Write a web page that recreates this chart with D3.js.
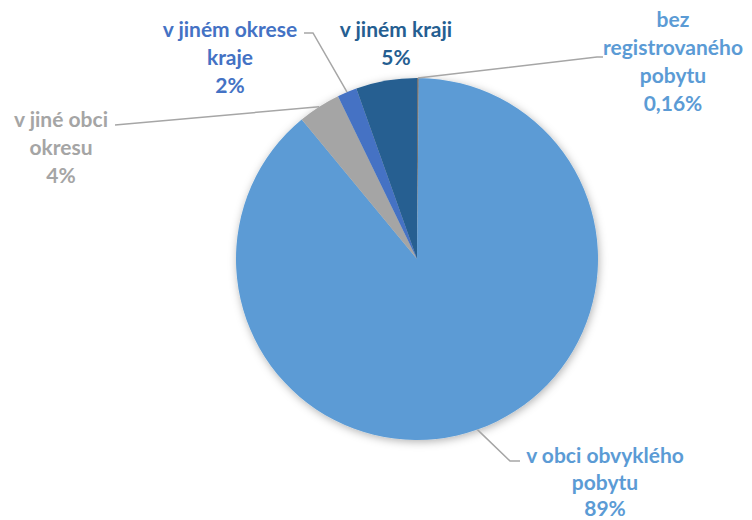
<!DOCTYPE html>
<meta charset="utf-8">
<style>
  body { margin: 0; background: #fff; }
  .lbl text { font: bold 21px Lato, "Open Sans", sans-serif; text-anchor: middle; }
  .leader { fill: none; stroke: #a6a6a6; stroke-width: 1.5; }
</style>
<svg width="752" height="520"></svg>
<script src="https://d3js.org/d3.v7.min.js"></script>
<script>

// data, clockwise from 12 o'clock
var categories = ["bez registrovaného pobytu", "v obci obvyklého pobytu", "v jiné obci okresu", "v jiném okrese kraje", "v jiném kraji"];
var shares = [0.16, 88.85, 3.8, 1.75, 5.44];
var pctLabels = ["0,16%", "89%", "4%", "2%", "5%"];
var labelLines = [
  ["bez", "registrovaného", "pobytu"],
  ["v obci obvyklého", "pobytu"],
  ["v jiné obci", "okresu"],
  ["v jiném okrese", "kraje"],
  ["v jiném kraji"]
];
var colors = ["#737373", "#5b9bd5", "#a5a5a5", "#4472c4", "#255e91"];
var textColors = ["#5b9bd5", "#5b9bd5", "#a5a5a5", "#4472c4", "#255e91"];

// layout
var cx = 417, cy = 259, radius = 181;
// label centre (x, y of first line), line step, leader end point on label side
var labelPos = [
  {x: 673, y: 20, h: 28, lx: 597, ly: 57, hx: 603},
  {x: 605, y: 456, h: 26.5, lx: 510, ly: 461, hx: 520},
  {x: 61, y: 120, h: 28, lx: 115, ly: 125, hx: 115},
  {x: 230, y: 30, h: 28, lx: 313, ly: 33, hx: 304},
  {x: 396, y: 30, h: 28}
];

var svg = d3.select("svg");

var defs = svg.append("defs");
var f = defs.append("filter").attr("id", "shadow")
  .attr("x", "-20%").attr("y", "-20%").attr("width", "140%").attr("height", "140%");
f.append("feDropShadow").attr("dx", 1).attr("dy", 2).attr("stdDeviation", 4)
  .attr("flood-color", "#000").attr("flood-opacity", 0.3);

var g = svg.append("g").attr("transform", "translate(" + cx + "," + cy + ")");

var pie = d3.pie().sort(null).value(function(d) { return d; });
var arcs = pie(shares);

var arc = d3.arc().innerRadius(0).outerRadius(radius);

var slices = g.append("g").attr("filter", "url(#shadow)");
slices.selectAll("path")
  .data(arcs)
  .enter().append("path")
    .attr("d", arc)
    .attr("fill", function(d, i) { return colors[i]; });

// leader lines
arcs.forEach(function(d, i) {
  var p = labelPos[i];
  if (p.lx == null) return;
  var a = (d.startAngle + d.endAngle) / 2;
  var sx = cx + Math.sin(a) * radius, sy = cy - Math.cos(a) * radius;
  svg.append("path").attr("class", "leader")
    .attr("d", d3.line()([[sx, sy], [p.lx, p.ly], [p.hx, p.ly]]));
});

// labels
var lbl = svg.append("g").attr("class", "lbl");
labelLines.forEach(function(lines, i) {
  var p = labelPos[i];
  var t = lbl.append("text").attr("fill", textColors[i]);
  lines.concat([pctLabels[i]]).forEach(function(s, j) {
    t.append("tspan").attr("x", p.x).attr("y", p.y + j * p.h).attr("dy", "0.35em").text(s);
  });
});

</script>
